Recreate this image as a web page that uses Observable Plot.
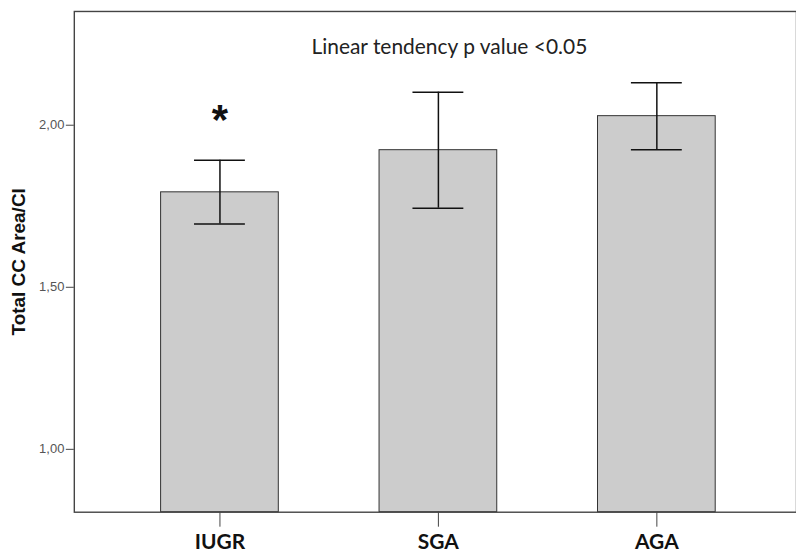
<!DOCTYPE html>
<html>
<head>
<meta charset="utf-8">
<script src="https://cdn.jsdelivr.net/npm/d3@7"></script>
<script src="https://cdn.jsdelivr.net/npm/@observablehq/plot@0.6"></script>
<style>
  html, body { margin: 0; padding: 0; background: #fff; overflow: hidden; }
</style>
</head>
<body>
<div id="chart"></div>
<script>
const groups = ["IUGR", "SGA", "AGA"];
const means = [1.793, 1.923, 2.028];
const lower = [1.695, 1.744, 1.924];
const upper = [1.892, 2.102, 2.131];
const yTicks = [1.0, 1.5, 2.0];
const yDomain = [0.806, 2.351];
const yTitle = "Total CC Area/CI";
const note = "Linear tendency p value <0.05";
const starGroup = ["IUGR"];

const arial = "Liberation Sans, Arial, sans-serif";
const calib = "Lato, Open Sans, sans-serif";

const data = groups.map((g, i) => ({group: g, mean: means[i], lo: lower[i], hi: upper[i]}));
const stars = data.filter(d => starGroup.includes(d.group));

const chart = Plot.plot({
  width: 798,
  height: 560,
  marginLeft: 74,
  marginRight: 0,
  marginTop: 11,
  marginBottom: 47,
  style: {fontFamily: arial, background: "#fff"},
  x: {domain: groups, range: [95.3, 782.7], paddingInner: 0.4612, paddingOuter: 0.3, align: 0.5, round: false},
  y: {domain: yDomain},
  marks: [
    Plot.barY(data, {x: "group", y1: () => yDomain[0], y2: "mean", fill: "#cccccc", stroke: "#333", strokeWidth: 1}),
    Plot.ruleX(data, {x: "group", y1: "lo", y2: "hi", stroke: "#111", strokeWidth: 1.5}),
    Plot.tickY(data, {x: "group", y: "hi", stroke: "#111", strokeWidth: 1.5, insetLeft: 33.5, insetRight: 33.5}),
    Plot.tickY(data, {x: "group", y: "lo", stroke: "#111", strokeWidth: 1.5, insetLeft: 33.5, insetRight: 33.5}),
    Plot.text(stars, {x: "group", y: "hi", text: () => "*", dy: -40, fontSize: 42, fontWeight: "bold", fill: "#111", fontFamily: arial}),
    Plot.frame({stroke: "#444", strokeWidth: 1.4}),
    Plot.axisY({ticks: yTicks, tickFormat: d => d.toFixed(2).replace(".", ","), tickSize: 8, tickPadding: 2, fontSize: 13, fontFamily: arial, stroke: "#444", fill: "#555", label: null}),
    Plot.axisX({tickSize: 15, tickPadding: 7, fontSize: 21, fontWeight: "bold", fontFamily: calib, stroke: "#444", fill: "#111", label: null}),
    Plot.text([yTitle], {frameAnchor: "left", text: d => d, rotate: -90, dx: -56, textAnchor: "middle", lineAnchor: "middle", fontSize: 19, fontWeight: "bold", fill: "#111", fontFamily: arial}),
    Plot.text([note], {frameAnchor: "top", text: d => d, dx: 14, dy: 36, textAnchor: "middle", lineAnchor: "middle", fontSize: 21, fill: "#222", fontFamily: calib})
  ]
});
document.getElementById("chart").appendChild(chart);
</script>
</body>
</html>
